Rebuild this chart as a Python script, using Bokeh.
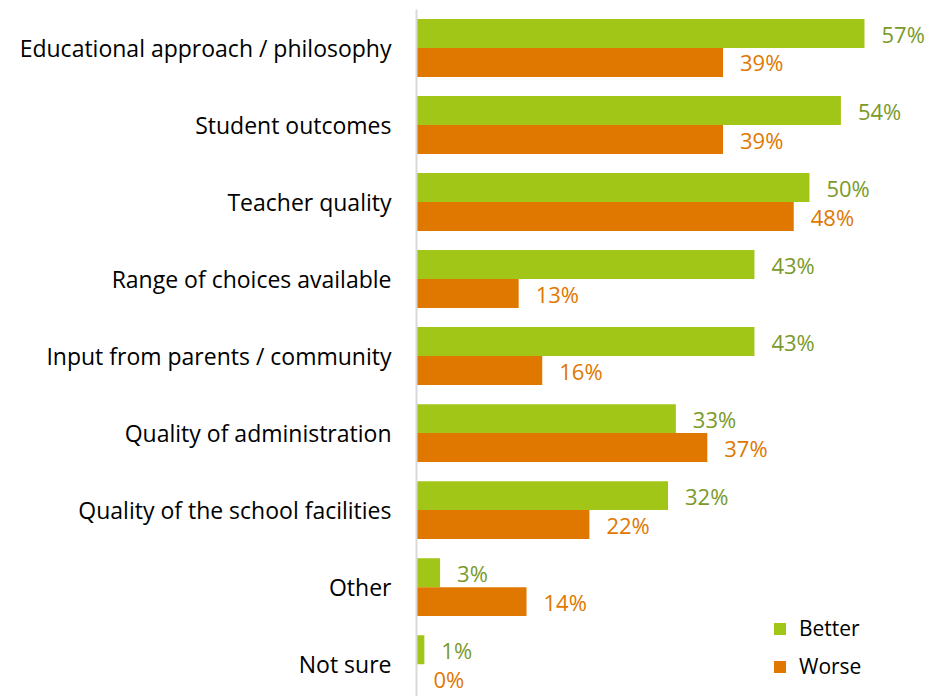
from bokeh.plotting import figure
from bokeh.models import Range1d, ColumnDataSource, Legend, LegendItem, FixedTicker
from bokeh.core.properties import value
from bokeh.embed import file_html
from bokeh.resources import INLINE

categories = ["Educational approach / philosophy", "Student outcomes", "Teacher quality",
              "Range of choices available", "Input from parents / community",
              "Quality of administration", "Quality of the school facilities",
              "Other", "Not sure"]
better = [57, 54, 50, 43, 43, 33, 32, 3, 1]
worse = [39, 39, 48, 13, 16, 37, 22, 14, 0]

GREEN = "#A2C617"
ORANGE = "#E07800"
GREEN_TXT = "#7A9A2A"
FONT = "Open Sans"

n = len(categories)
idx = list(range(n))
bh = 0.376
src = ColumnDataSource(dict(
    yb=[i - bh / 2 for i in idx], yw=[i + bh / 2 for i in idx],
    better=better, worse=worse,
    tb=[f"{v}%" for v in better], tw=[f"{v}%" for v in worse],
))

p = figure(width=930, height=696, output_backend="svg", toolbar_location=None,
           x_range=Range1d(0, 65.4), y_range=Range1d(8.42, -0.5),
           min_border_left=416, min_border_top=9, min_border_bottom=0, min_border_right=0)
p.outline_line_color = None
p.xgrid.visible = False
p.ygrid.visible = False
p.xaxis.visible = False

rb = p.hbar(y="yb", right="better", left=0, height=bh, source=src, fill_color=GREEN, line_color=None)
rw = p.hbar(y="yw", right="worse", left=0, height=bh, source=src, fill_color=ORANGE, line_color=None)

p.text(x="better", y="yb", text="tb", source=src, x_offset=17, text_baseline="middle",
       text_color=GREEN_TXT, text_font=value(FONT), text_font_size="22px")
p.text(x="worse", y="yw", text="tw", source=src, x_offset=17, text_baseline="middle",
       text_color=ORANGE, text_font=value(FONT), text_font_size="22px")

ya = p.yaxis[0]
ya.ticker = FixedTicker(ticks=idx)
ya.major_label_overrides = {i: c for i, c in zip(idx, categories)}
ya.major_tick_line_color = None
ya.minor_tick_line_color = None
ya.major_tick_out = 0
ya.major_label_standoff = 25
ya.major_label_text_font = FONT
ya.major_label_text_font_size = "23px"
ya.major_label_text_color = "#000000"
ya.axis_line_color = "#D9D9D9"
ya.axis_line_width = 2

legend = Legend(items=[LegendItem(label="Better", renderers=[rb]),
                       LegendItem(label="Worse", renderers=[rw])],
                location=(356, 16), padding=0, margin=0, spacing=10,
                glyph_width=15, glyph_height=15, label_height=22, label_standoff=12,
                label_text_font=FONT, label_text_font_size="21px", label_text_color="#000000",
                border_line_color=None, background_fill_alpha=0)
p.add_layout(legend)

open("out.html", "w").write(file_html(p, INLINE))
